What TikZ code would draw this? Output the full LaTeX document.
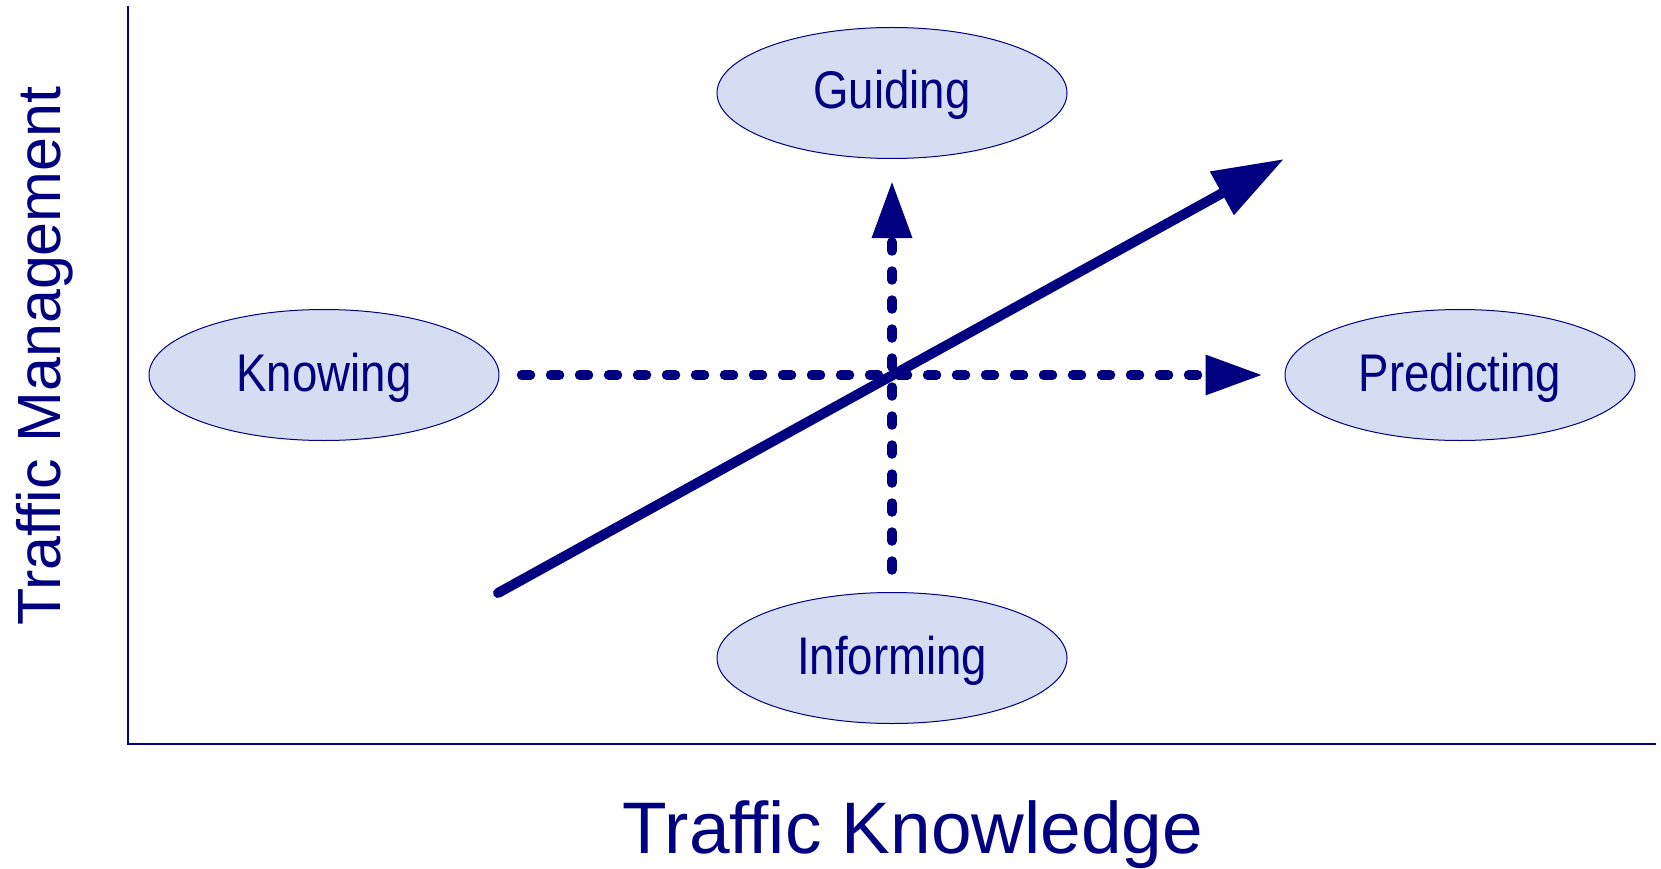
\documentclass[tikz,border=0pt]{standalone}
\usepackage{fontspec}
\setmainfont{Liberation Sans}
\newfontfamily\narrowfont{Liberation Sans}[FakeStretch=0.86]
\usetikzlibrary{arrows.meta,shapes.geometric}
\definecolor{navy}{HTML}{000080}
\definecolor{ellfill}{HTML}{D4DDF1}
\tikzset{
  phase/.style={ellipse, draw=navy, line width=1pt, fill=ellfill,
    minimum width=350pt, minimum height=131pt, inner sep=0pt,
    text=navy, font=\narrowfont\fontsize{53}{60}\selectfont},
  phasetext/.style={text=navy, font=\narrowfont\fontsize{53}{60}\selectfont, inner sep=0pt, anchor=base},
  axisline/.style={draw=navy, line width=1.5pt},
  dasharrow/.style={draw=navy, line width=9.5pt, line cap=round,
    dash pattern=on 9pt off 20pt,
    -{Triangle[length=57pt, width=38pt]}, shorten <=22pt, shorten >=22pt},
  mainarrow/.style={draw=navy, line width=10pt, line cap=round,
    -{Triangle[length=71pt, width=47pt]}},
  axislabel/.style={text=navy, inner sep=0pt}
}
\begin{document}
\begin{tikzpicture}[x=1pt, y=-1pt]
\useasboundingbox (0,0) rectangle (1661,869);
% axes
\coordinate (top) at (128,6);
\coordinate (origin) at (128,744);
\coordinate (right) at (1656,744);
\draw[axisline] (top) -- (origin) -- (right);
% ellipses
\node[phase] (guiding) at (892,93) {};
\node[phase] (knowing) at (324,375) {};
\node[phase] (predicting) at (1460,375) {};
\node[phase] (informing) at (892,658) {};
\node[phasetext] (tguiding) at (892,109) {Guiding};
\node[phasetext] (tknowing) at (324,391) {Knowing};
\node[phasetext] (tpredicting) at (1460,391) {Predicting};
\node[phasetext] (tinforming) at (892,674) {Informing};
% dashed arrows
\draw[dasharrow] (knowing.east) -- (predicting.west);
\draw[dasharrow] (informing.north) -- (guiding.south);
% main arrow
\coordinate (start) at (498,593);
\coordinate (tip) at (1284,159);
\draw[mainarrow] (start) -- (tip);
% axis labels
\node[axislabel, font=\fontsize{73}{80}\selectfont, anchor=base] (xlabel) at (913,853) {Traffic Knowledge};
\node[axislabel, font=\fontsize{61}{70}\selectfont, rotate=90, anchor=base] (ylabel) at (60,356) {Traffic Management};
\end{tikzpicture}
\end{document}
